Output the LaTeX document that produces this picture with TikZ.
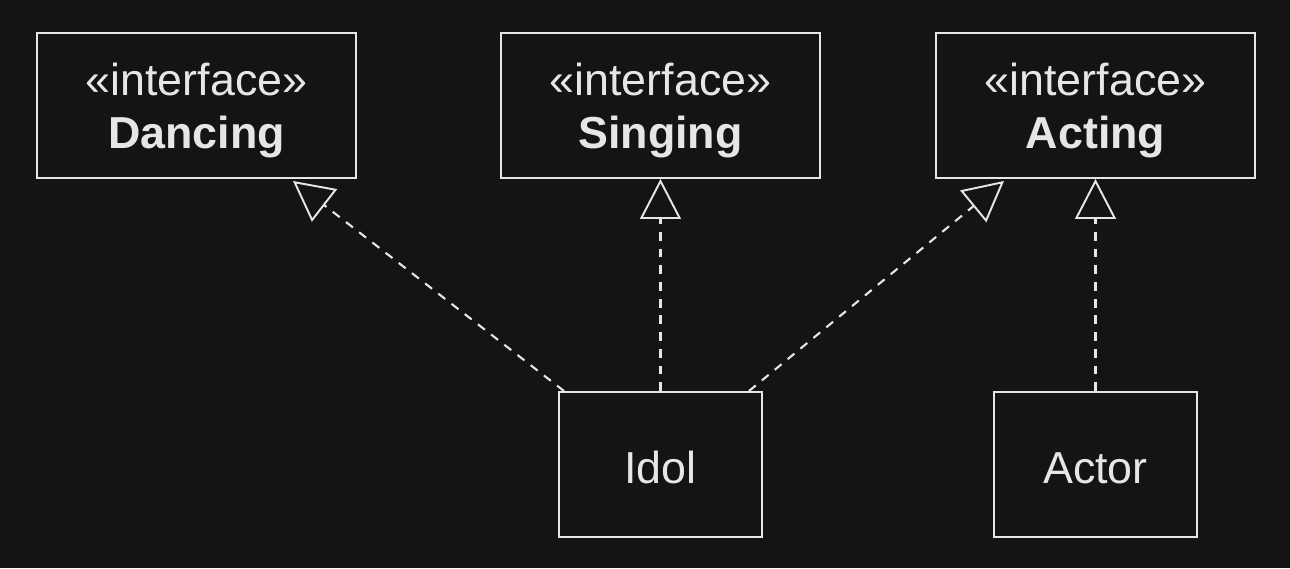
\documentclass[tikz,border=0pt]{standalone}
\usepackage{fontspec}
\setmainfont{Liberation Sans}
\usetikzlibrary{arrows.meta}
\definecolor{bgdark}{HTML}{141414}
\definecolor{fgline}{HTML}{E6E6E6}
\newcommand{\ifacelabel}[1]{\rule{0pt}{24.2pt}«interface»\\\textbf{#1}}
\begin{document}
\begin{tikzpicture}[
    classbox/.style={draw=fgline, line width=1.1pt, text=fgline, align=center,
        font=\fontsize{25.5}{30}\selectfont, inner sep=0pt},
    iface/.style={classbox, minimum width=6.38cm, minimum height=2.9cm},
    impl/.style={classbox, minimum width=4.06cm, minimum height=2.9cm},
    realize/.style={draw=fgline, line width=1.2pt, dash pattern=on 5pt off 4.5pt,
        -{Triangle[open, length=0.8cm, width=0.82cm, line width=1.1pt]}}
]
    \fill[bgdark] (0,0) rectangle (25.8,11.36);
    \useasboundingbox (0,0) rectangle (25.8,11.36);
    % interfaces
    \node[iface] (dancing) at (3.93,9.25) {\ifacelabel{Dancing}};
    \node[iface] (singing) at (13.21,9.25) {\ifacelabel{Singing}};
    \node[iface] (acting) at (21.91,9.25) {\ifacelabel{Acting}};
    % classes
    \node[impl] (idol) at (13.21,2.07) {\rule{0pt}{21.7pt}Idol};
    \node[impl] (actor) at (21.91,2.07) {\rule{0pt}{21.7pt}Actor};
    % realizations
    \draw[realize] ([xshift=0.12cm]idol.north west) -- ([xshift=-1.28cm,yshift=-0.04cm]dancing.south east);
    \draw[realize] (idol.north) -- (singing.south);
    \draw[realize] ([xshift=-0.28cm]idol.north east) -- ([xshift=1.38cm,yshift=-0.04cm]acting.south west);
    \draw[realize] (actor.north) -- (acting.south);
\end{tikzpicture}
\end{document}
